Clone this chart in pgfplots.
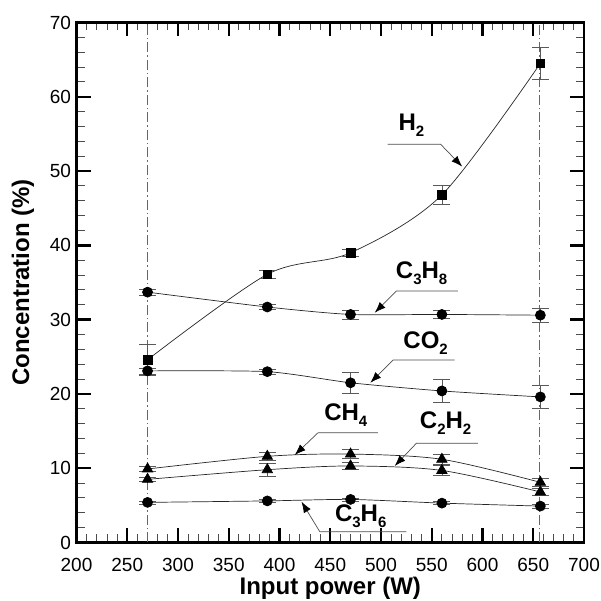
\documentclass[border=0pt]{standalone}
\usepackage{pgfplots}
\pgfplotsset{compat=1.18}
\usepackage{fontspec}
\setmainfont{Liberation Sans}
\usetikzlibrary{arrows.meta}
\newcommand{\lab}[1]{{\fontsize{24}{24}\selectfont\bfseries #1}}
\newcommand{\sub}[1]{\raisebox{-6pt}{\fontsize{15}{15}\selectfont\bfseries #1}}
\begin{document}
\begin{tikzpicture}
\path[use as bounding box] (-76.5pt,-58.5pt) rectangle (524.5pt,542.5pt);
\begin{axis}[
  scale only axis,
  width=507.5pt, height=520pt,
  xmin=200, xmax=700, ymin=0, ymax=70,
  xtick={200,250,...,700}, ytick={0,10,...,70},
  minor x tick num=4, minor y tick num=4,
  tick pos=both, tick align=inside,
  xticklabel pos=lower, yticklabel pos=left,
  major tick length=14pt, minor tick length=8pt,
  major tick style={line width=2.4pt, black},
  minor tick style={line width=0.9pt, black!70},
  axis line style={line width=2.6pt},
  /pgf/number format/assume math mode=true,
  /pgf/number format/1000 sep={},
  tick label style={font=\fontsize{19}{19}\selectfont},
  xticklabel style={anchor=north, yshift=-12pt},
  yticklabel style={anchor=east, xshift=-2pt},
  xlabel={\lab{Input power (W)}},
  ylabel={\lab{Concentration (\%)}},
  xlabel style={at={(axis description cs:0.5,-0.0798)}, anchor=center, yshift=-4pt},
  ylabel style={at={(axis description cs:-0.1054,0.5)}, anchor=center},
  clip=false,
  every axis plot/.append style={line width=0.7pt, black!85},
  error bars/y dir=both, error bars/y explicit,
  error bars/error bar style={line width=0.7pt, black!65},
  error bars/error mark options={rotate=90, mark size=8.5pt, line width=0.7pt, black!65},
]
% vertical dash-dot lines
\addplot[black!60, line width=0.7pt, dash pattern=on 10pt off 3pt on 1.5pt off 3pt, forget plot, error bars/y dir=none] coordinates {(270,0) (270,70)};
\addplot[black!60, line width=0.7pt, dash pattern=on 10pt off 3pt on 1.5pt off 3pt, forget plot, error bars/y dir=none] coordinates {(656,0) (656,70)};
% H2
\addplot[smooth, tension=0.5, mark=square*, mark size=4.4pt, mark options={black, solid}] coordinates {
 (270,24.6) +- (0,2.1) (388,36.1) +- (0,0.6) (470,39.0) +- (0,0.5) (560,46.8) +- (0,1.3) (657,64.5) +- (0,2.2)};
% C3H8
\addplot[smooth, tension=0.4, mark=*, mark size=5pt, mark options={black}] coordinates {
 (270,33.7) +- (0,0.4) (388,31.7) +- (0,0.3) (470,30.7) +- (0,0.6) (560,30.7) +- (0,0.5) (657,30.6) +- (0,0.9)};
% CO2
\addplot[smooth, tension=0.4, mark=*, mark size=5pt, mark options={black}] coordinates {
 (270,23.1) +- (0,0.4) (388,23.0) +- (0,0.3) (470,21.5) +- (0,1.4) (560,20.4) +- (0,1.5) (657,19.6) +- (0,1.5)};
% CH4
\addplot[smooth, tension=0.5, mark=triangle*, mark size=6pt, mark options={black}] coordinates {
 (270,9.9) +- (0,0.3) (388,11.6) +- (0,0.5) (470,11.9) +- (0,0.6) (560,11.2) +- (0,0.7) (657,8.1) +- (0,0.6)};
% C2H2
\addplot[smooth, tension=0.5, mark=triangle*, mark size=6pt, mark options={black}] coordinates {
 (270,8.5) +- (0,0.3) (388,9.8) +- (0,0.9) (470,10.3) +- (0,0.5) (560,9.7) +- (0,0.7) (657,6.8) +- (0,0.5)};
% C3H6
\addplot[smooth, tension=0.4, mark=*, mark size=5pt, mark options={black}] coordinates {
 (270,5.4) +- (0,0.2) (388,5.6) +- (0,0.2) (470,5.8) +- (0,0.2) (560,5.3) +- (0,0.2) (657,4.9) +- (0,0.3)};
% annotations
\tikzset{lead/.style={black!70, line width=0.7pt, -{Latex[length=11pt,width=8pt,color=black]}}}
\node at (axis cs:530,56.2) {\lab{H\sub{2}}};
\draw[lead] (axis cs:506.5,53.6) -- (axis cs:558.8,53.6) -- (axis cs:580,50.6);
\node at (axis cs:540,36.3) {\lab{C\sub{3}H\sub{8}}};
\draw[lead] (axis cs:575.8,33.85) -- (axis cs:515.2,33.85) -- (axis cs:493.8,30.93);
\node at (axis cs:544,26.85) {\lab{CO\sub{2}}};
\draw[lead] (axis cs:572.5,24.56) -- (axis cs:511.8,24.56) -- (axis cs:489.5,21.5);
\node at (axis cs:465.3,17.2) {\lab{CH\sub{4}}};
\draw[lead] (axis cs:497,14.78) -- (axis cs:438,14.78) -- (axis cs:415,11.78);
\node at (axis cs:563.7,16.1) {\lab{C\sub{2}H\sub{2}}};
\draw[lead] (axis cs:595.5,13.35) -- (axis cs:534.8,13.35) -- (axis cs:513.5,10.3);
\node at (axis cs:480,3.57) {\lab{C\sub{3}H\sub{6}}};
\draw[lead] (axis cs:525,1.45) -- (axis cs:439.7,1.45) -- (axis cs:421.7,5.49);
\end{axis}
\end{tikzpicture}
\end{document}
